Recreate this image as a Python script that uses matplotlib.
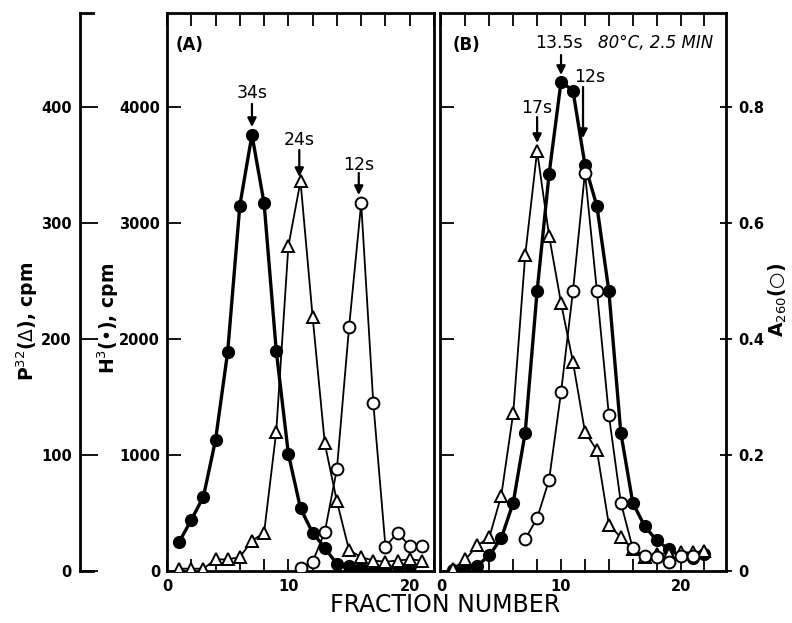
import matplotlib
matplotlib.use('Agg')
import matplotlib.pyplot as plt

plt.rcParams['font.family'] = ['DejaVu Sans']

# ---------------- data ----------------
# Panel A
a_h3_x = list(range(1, 21))
a_h3 = [250, 440, 640, 1130, 1890, 3150, 3760, 3170, 1900, 1010,
        540, 330, 200, 60, 40, 28, 22, 30, 35, 45]
a_p32_x = list(range(1, 22))
a_p32 = [2, 2, 2, 10, 10, 12, 26, 33, 120, 280, 336, 219, 110, 60,
         18, 12, 9, 8, 9, 10, 9]
a_a260_x = list(range(11, 22))
a_a260 = [0.005, 0.016, 0.067, 0.176, 0.42, 0.634, 0.289, 0.042,
          0.066, 0.043, 0.043]

# Panel B
b_h3_x = list(range(1, 23))
b_h3 = [10, 35, 46, 135, 282, 589, 1192, 2414, 3422, 4218, 4140, 3500,
        3146, 2414, 1192, 589, 385, 265, 187, 130, 109, 150]
b_p32_x = list(range(1, 23))
b_p32 = [2, 10, 22, 29, 65, 136, 272, 362, 289, 231, 180, 120, 104, 40,
         29, 19, 12, 15, 15, 16, 16, 17]
b_a260_x = list(range(7, 22))
b_a260 = [0.055, 0.091, 0.157, 0.308, 0.483, 0.687, 0.483, 0.269, 0.118,
          0.039, 0.025, 0.024, 0.015, 0.025, 0.025]

h3_ticks = [0, 1000, 2000, 3000, 4000]
p32_ticks = [0, 100, 200, 300, 400]
a260_ticks = [0, 0.2, 0.4, 0.6, 0.8]
a260_labels = ['0', '0.2', '0.4', '0.6', '0.8']
x_ticks = list(range(0, 23, 2))
x_labels = ['0' if t == 0 else ('10' if t == 10 else ('20' if t == 20 else '')) for t in x_ticks]

# annotations: (x, tip, start, text_y, text, text_x)
annots_a = [(7, 3827, 4026, 4120, '34s', 7),
            (10.9, 3396, 3629, 3715, '24s', 10.9),
            (15.8, 3241, 3431, 3500, '12s', 15.8)]
annots_b = [(8.0, 3689, 3913, 3991, '17s', 8.0),
            (10.0, 4276, 4448, 4551, '13.5s', 9.8),
            (11.84, 3732, 4172, 4258, '12s', 12.4)]

# ---------------- figure ----------------
W, H = 792, 623
fig = plt.figure(figsize=(W / 100, H / 100), dpi=100)

bot = (H - 571) / H
hgt = (571 - 13) / H
H3_MAX = 4810
P32_MAX = H3_MAX / 10
A_MAX = H3_MAX / 5000

axA = fig.add_axes([167 / W, bot, 267 / W, hgt])
axB = fig.add_axes([440 / W, bot, 286 / W, hgt])

lw_spine = 2.0
tick_font = dict(fontsize=10.5, fontweight='bold')

for ax, xmin, xmax in [(axA, 0, 21.9), (axB, -0.125, 23.8)]:
    ax.set_xlim(xmin, xmax)
    ax.set_ylim(0, H3_MAX)
    for s in ax.spines.values():
        s.set_linewidth(lw_spine)
    ax.set_xticks(x_ticks)
    ax.set_xticklabels(x_labels, **tick_font)
    ax.tick_params(axis='x', which='both', direction='in', top=True, bottom=True,
                   length=9, width=1.3, pad=6)
    ax.set_yticks(h3_ticks)

axA.set_yticklabels([str(t) for t in h3_ticks], **tick_font)
axA.tick_params(axis='y', direction='in', left=True, right=True, labelleft=True,
                length=10, width=1.3, pad=5)
axB.tick_params(axis='y', direction='in', left=True, right=False, labelleft=False,
                length=10, width=1.3)

marker_kw = dict(markersize=8.5)


def draw_panel(ax, hx, hy, px, py, axx, ay, right_labels):
    ax.plot(hx, hy, color='black', lw=2.4, marker='o', mfc='black', mec='black',
            zorder=3, **marker_kw)
    tp = ax.twinx()
    tp.set_ylim(0, P32_MAX)
    tp.set_xlim(ax.get_xlim())
    tp.plot(px, py, color='black', lw=1.3, marker='^', mfc='white', mec='black',
            mew=1.4, zorder=3, markersize=8)
    tp.set_yticks([])
    for s in tp.spines.values():
        s.set_visible(False)
    ta = ax.twinx()
    ta.set_ylim(0, A_MAX)
    ta.set_xlim(ax.get_xlim())
    ta.plot(axx, ay, color='black', lw=1.3, marker='o', mfc='white', mec='black',
            mew=1.4, zorder=3, **marker_kw)
    for s in ta.spines.values():
        s.set_visible(False)
    if right_labels:
        ta.set_yticks(a260_ticks)
        ta.set_yticklabels(a260_labels, **tick_font)
        ta.tick_params(axis='y', direction='inout', length=8, width=1.3, pad=5)
    else:
        ta.set_yticks([])
    return ta


draw_panel(axA, a_h3_x, a_h3, a_p32_x, a_p32, a_a260_x, a_a260, False)
draw_panel(axB, b_h3_x, b_h3, b_p32_x, b_p32, b_a260_x, b_a260, True)

arrow_kw = dict(arrowstyle='-|>', lw=1.6, color='black', mutation_scale=13,
                shrinkA=0, shrinkB=0)
for ax, ann in [(axA, annots_a), (axB, annots_b)]:
    for x, tip, start, ty, txt, tx in ann:
        ax.annotate('', xy=(x, tip), xytext=(x, start), arrowprops=arrow_kw, zorder=5)
        ax.text(tx, ty, txt, ha='center', va='center', fontsize=12.5, zorder=5)

axA.text(0.74, 4534, '(A)', ha='left', va='center', fontsize=12, fontweight='bold')
axB.text(0.96, 4534, '(B)', ha='left', va='center', fontsize=12, fontweight='bold')
axB.text(13.1, 4551, '80°C, 2.5 MIN', ha='left', va='center', fontsize=12,
         style='italic')

# outer P32 axis
axP = fig.add_axes([80 / W, bot, 13 / W, hgt])
axP.patch.set_visible(False)
axP.set_ylim(0, P32_MAX)
axP.set_xticks([])
axP.spines['right'].set_visible(False)
for s in ['left', 'top', 'bottom']:
    axP.spines[s].set_linewidth(lw_spine)
axP.set_yticks(p32_ticks)
axP.set_yticklabels([str(t) for t in p32_ticks], **tick_font)
axP.tick_params(axis='y', direction='in', length=13, width=1.3, pad=6)

# axis labels
fig.text(27 / W, 1 - 321 / H, 'P$^{32}$($\\Delta$), cpm', rotation=90, ha='center',
         va='center', fontsize=13.5, fontweight='bold')
fig.text(108 / W, 1 - 318 / H, 'H$^{3}$(•), cpm', rotation=90, ha='center',
         va='center', fontsize=13.5, fontweight='bold')
fig.text(778 / W, 1 - 300 / H, 'A$_{260}$(○)', rotation=90, ha='center',
         va='center', fontsize=13.5, fontweight='bold')
fig.text(445 / W, 1 - 605 / H, 'FRACTION NUMBER', ha='center', va='center',
         fontsize=17)

fig.savefig('out.png', dpi=100)
